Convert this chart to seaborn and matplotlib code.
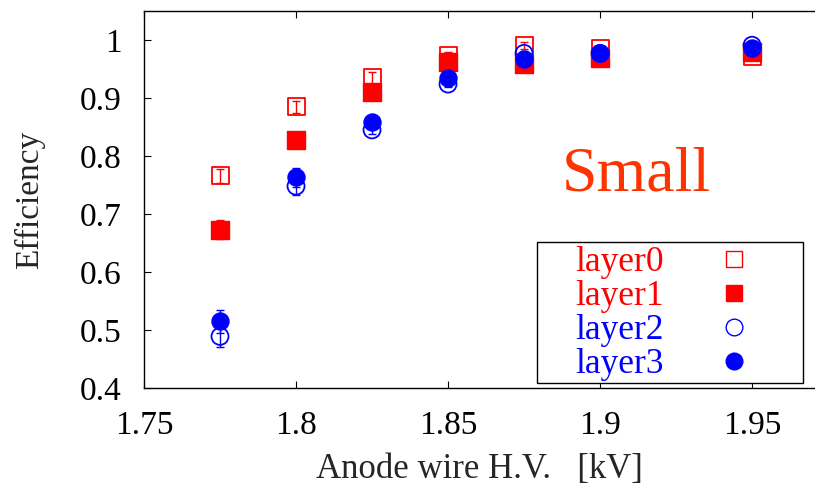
import matplotlib
matplotlib.use("Agg")
import matplotlib.pyplot as plt
import seaborn as sns
import pandas as pd
from matplotlib.lines import Line2D
from matplotlib.patches import Rectangle

hv = [1.775, 1.8, 1.825, 1.85, 1.875, 1.9, 1.95]
layer0 = [0.766, 0.885, 0.935, 0.974, 0.991, 0.985, 0.971]
layer0_err = [0.012, 0.010, 0.010, 0.006, 0.006, 0.004, 0.004]
layer1 = [0.673, 0.828, 0.911, 0.962, 0.958, 0.969, 0.979]
layer1_err = [0.016, 0.009, 0.006, 0.005, 0.004, 0.004, 0.004]
layer2 = [0.489, 0.748, 0.845, 0.924, 0.977, 0.977, 0.991]
layer2_err = [0.018, 0.016, 0.007, 0.005, 0.004, 0.004, 0.004]
layer3 = [0.515, 0.763, 0.859, 0.934, 0.967, 0.977, 0.986]
layer3_err = [0.020, 0.016, 0.008, 0.005, 0.004, 0.004, 0.004]

names = ["layer0", "layer1", "layer2", "layer3"]
values = [layer0, layer1, layer2, layer3]
errors = [layer0_err, layer1_err, layer2_err, layer3_err]
colors = ["#ff0000", "#ff0000", "#0000ff", "#0000ff"]
markers = ["s", "s", "o", "o"]
filled = [False, True, False, True]

sns.set_theme(style="ticks")
plt.rcParams["font.family"] = ["Liberation Serif", "DejaVu Serif"]

fig = plt.figure(figsize=(8.15, 4.92), dpi=100)
ax = fig.add_axes([144 / 815, 1 - 388 / 492, 1 - 144 / 815, (388 - 11) / 492])

handles = []
for name, v, e, c, m, f in zip(names, values, errors, colors, markers, filled):
    df = pd.DataFrame({"hv": hv, "eff": v, "err": e})
    ax.errorbar(df["hv"], df["eff"], yerr=df["err"], fmt="none", ecolor=c,
                elinewidth=1.0, capsize=3, capthick=1.0, zorder=2)
    sz = 150
    if f:
        sns.scatterplot(data=df, x="hv", y="eff", marker=m, s=sz, color=c,
                        edgecolor=c, linewidth=1.0, ax=ax, zorder=3, legend=False)
    else:
        sns.scatterplot(data=df, x="hv", y="eff", marker=m, s=sz, facecolor="none",
                        edgecolor=c, linewidth=1.3, ax=ax, zorder=3, legend=False)
    handles.append(Line2D([], [], linestyle="none", marker=m,
                          markersize=11.5 if m == "s" else 12,
                          markerfacecolor=c if f else "none", markeredgecolor=c,
                          markeredgewidth=1.0, label=name))

ax.set_xlim(1.75, 1.9707)
ax.set_ylim(0.4, 1.05)
ax.set_xticks([1.75, 1.8, 1.85, 1.9, 1.95])
ax.set_xticklabels(["1.75", "1.8", "1.85", "1.9", "1.95"])
ax.set_yticks([0.4, 0.5, 0.6, 0.7, 0.8, 0.9, 1.0])
ax.set_yticklabels(["0.4", "0.5", "0.6", "0.7", "0.8", "0.9", "1"])
ax.tick_params(direction="in", length=5, width=0.8, labelsize=24, top=True,
               colors="black")
ax.tick_params(axis="x", pad=16)
ax.tick_params(axis="y", pad=16)
for s in ["left", "bottom", "top"]:
    ax.spines[s].set_linewidth(1.0)
    ax.spines[s].set_color("black")
ax.spines["right"].set_visible(False)

ax.set_xlabel("Anode wire H.V.   [kV]", fontsize=25, labelpad=9)
ax.set_ylabel("Efficiency", fontsize=24, labelpad=25)

ax.text(1.912, 0.741, "Small", color="#ff3300", fontsize=46, ha="center", va="baseline")

# legend frame (gnuplot-style key box)
ax.add_patch(Rectangle((0.5857, 0.0133), 0.9821 - 0.5857, 0.3873 - 0.0133,
                       transform=ax.transAxes, fill=True, facecolor="white",
                       edgecolor="black", linewidth=1.0, zorder=4))
leg = ax.legend(handles=handles, loc="upper left", bbox_to_anchor=(0.6423, 0.3765),
                fontsize=25.5, markerfirst=False, frameon=False,
                handletextpad=1.25, labelspacing=0.03, borderpad=0.0,
                borderaxespad=0.0, handlelength=1.5)
leg.set_zorder(5)
for t, c in zip(leg.get_texts(), colors):
    t.set_color(c)

fig.savefig("out.png", dpi=100)
